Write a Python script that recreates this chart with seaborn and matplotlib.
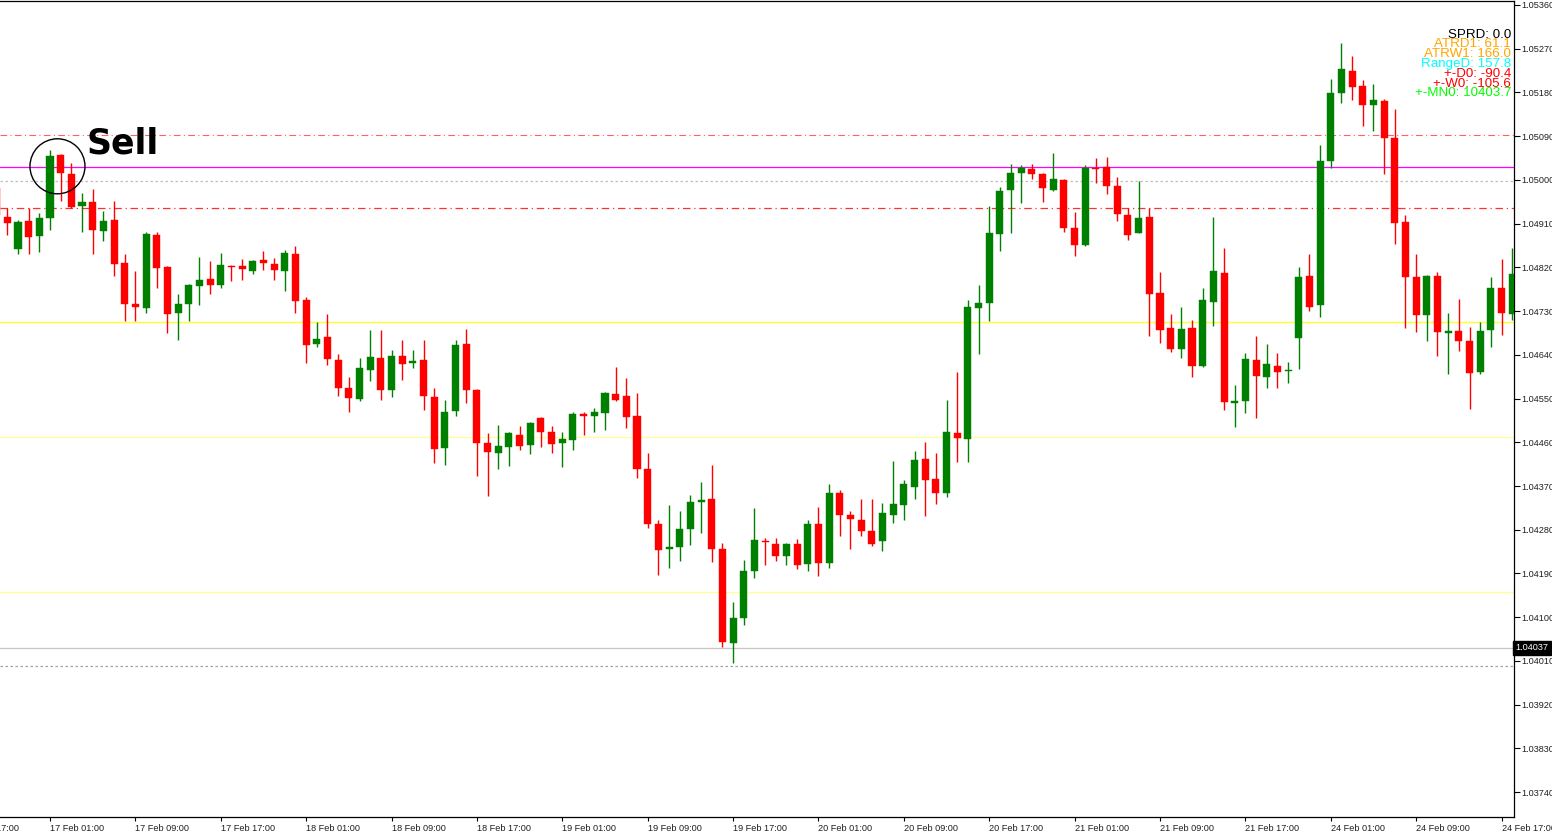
import numpy as np
import pandas as pd
import matplotlib
matplotlib.use("Agg")
import matplotlib.pyplot as plt
import matplotlib.transforms as mtransforms
from matplotlib.patches import Ellipse
import seaborn as sns

# ---------------- data (EURUSD H1, bars from 16/17 Feb to 24 Feb) ----------------
opens = [
    1.04983, 1.04924, 1.04857, 1.04916, 1.04884, 1.04922, 1.05052, 1.05012, 1.04946, 1.04955,
    1.04894, 1.04918, 1.04828, 1.04744, 1.04737, 1.04887, 1.04821, 1.04726, 1.04745, 1.04782,
    1.04796, 1.04784, 1.04823, 1.04823, 1.04813, 1.04835, 1.04827, 1.04813, 1.04848, 1.04752,
    1.04662, 1.04677, 1.04629, 1.04572, 1.04549, 1.04609, 1.04633, 1.04567, 1.04637, 1.04623,
    1.04629, 1.04553, 1.04449, 1.04525, 1.04662, 1.04567, 1.04459, 1.04439, 1.04450, 1.04475,
    1.04454, 1.04510, 1.04481, 1.04458, 1.04465, 1.04518, 1.04514, 1.04521, 1.04559, 1.04555,
    1.04515, 1.04405, 1.04292, 1.04240, 1.04245, 1.04282, 1.04338, 1.04343, 1.04240, 1.04046,
    1.04099, 1.04195, 1.04257, 1.04251, 1.04225, 1.04251, 1.04210, 1.04292, 1.04212, 1.04356,
    1.04310, 1.04301, 1.04278, 1.04256, 1.04311, 1.04330, 1.04369, 1.04425, 1.04384, 1.04356,
    1.04480, 1.04466, 1.04736, 1.04747, 1.04888, 1.04979, 1.05014, 1.05022, 1.05013, 1.04979,
    1.05000, 1.04900, 1.04867, 1.05025, 1.05026, 1.04987, 1.04928, 1.04891, 1.04924, 1.04768,
    1.04695, 1.04651, 1.04695, 1.04617, 1.04748, 1.04809, 1.04540, 1.04544, 1.04629, 1.04595,
    1.04617, 1.04607, 1.04674, 1.04802, 1.04743, 1.05039, 1.05178, 1.05224, 1.05193, 1.05154,
    1.05163, 1.05087, 1.04913, 1.04801, 1.04721, 1.04802, 1.04684, 1.04689, 1.04668, 1.04604,
    1.04691, 1.04777, 1.04724,
]
highs = [
    1.04990, 1.04942, 1.04918, 1.04942, 1.04932, 1.05062, 1.05054, 1.05035, 1.04973, 1.04981,
    1.04937, 1.04957, 1.04848, 1.04813, 1.04892, 1.04892, 1.04823, 1.04765, 1.04786, 1.04842,
    1.04833, 1.04850, 1.04824, 1.04838, 1.04835, 1.04854, 1.04840, 1.04856, 1.04863, 1.04758,
    1.04708, 1.04724, 1.04641, 1.04595, 1.04634, 1.04691, 1.04691, 1.04650, 1.04671, 1.04650,
    1.04671, 1.04571, 1.04547, 1.04671, 1.04693, 1.04569, 1.04480, 1.04496, 1.04481, 1.04494,
    1.04502, 1.04512, 1.04494, 1.04481, 1.04522, 1.04522, 1.04530, 1.04563, 1.04614, 1.04593,
    1.04561, 1.04437, 1.04300, 1.04330, 1.04319, 1.04352, 1.04378, 1.04413, 1.04252, 1.04131,
    1.04218, 1.04325, 1.04264, 1.04263, 1.04253, 1.04261, 1.04300, 1.04326, 1.04375, 1.04362,
    1.04319, 1.04343, 1.04343, 1.04335, 1.04422, 1.04382, 1.04442, 1.04461, 1.04437, 1.04547,
    1.04605, 1.04753, 1.04784, 1.04946, 1.04985, 1.05033, 1.05031, 1.05033, 1.05015, 1.05056,
    1.05001, 1.04933, 1.05031, 1.05046, 1.05048, 1.05007, 1.04942, 1.04998, 1.04942, 1.04811,
    1.04724, 1.04739, 1.04712, 1.04777, 1.04924, 1.04859, 1.04578, 1.04643, 1.04679, 1.04662,
    1.04644, 1.04626, 1.04821, 1.04847, 1.05072, 1.05207, 1.05282, 1.05256, 1.05206, 1.05197,
    1.05166, 1.05145, 1.04928, 1.04848, 1.04805, 1.04811, 1.04726, 1.04754, 1.04698, 1.04707,
    1.04800, 1.04837, 1.04859,
]
lows = [
    1.04918, 1.04887, 1.04848, 1.04848, 1.04852, 1.04896, 1.04957, 1.04942, 1.04893, 1.04848,
    1.04875, 1.04803, 1.04710, 1.04710, 1.04727, 1.04777, 1.04684, 1.04671, 1.04710, 1.04742,
    1.04766, 1.04777, 1.04792, 1.04795, 1.04806, 1.04815, 1.04795, 1.04772, 1.04727, 1.04624,
    1.04657, 1.04619, 1.04555, 1.04522, 1.04546, 1.04586, 1.04547, 1.04554, 1.04588, 1.04612,
    1.04527, 1.04417, 1.04413, 1.04515, 1.04540, 1.04391, 1.04350, 1.04405, 1.04411, 1.04444,
    1.04435, 1.04451, 1.04439, 1.04410, 1.04444, 1.04476, 1.04482, 1.04485, 1.04544, 1.04489,
    1.04387, 1.04283, 1.04187, 1.04202, 1.04216, 1.04249, 1.04273, 1.04214, 1.04039, 1.04006,
    1.04084, 1.04181, 1.04207, 1.04216, 1.04207, 1.04199, 1.04195, 1.04185, 1.04202, 1.04268,
    1.04240, 1.04267, 1.04247, 1.04236, 1.04294, 1.04300, 1.04343, 1.04309, 1.04332, 1.04348,
    1.04420, 1.04420, 1.04642, 1.04710, 1.04854, 1.04891, 1.04953, 1.05001, 1.04955, 1.04977,
    1.04893, 1.04843, 1.04864, 1.04993, 1.04972, 1.04916, 1.04876, 1.04890, 1.04679, 1.04665,
    1.04645, 1.04633, 1.04594, 1.04614, 1.04699, 1.04527, 1.04492, 1.04521, 1.04509, 1.04572,
    1.04571, 1.04583, 1.04610, 1.04731, 1.04717, 1.05024, 1.05158, 1.05165, 1.05111, 1.05101,
    1.05012, 1.04868, 1.04696, 1.04688, 1.04669, 1.04638, 1.04600, 1.04647, 1.04528, 1.04601,
    1.04656, 1.04681, 1.04712,
]
closes = [
    1.04928, 1.04912, 1.04914, 1.04883, 1.04922, 1.05050, 1.05014, 1.04944, 1.04955, 1.04896,
    1.04916, 1.04826, 1.04744, 1.04739, 1.04888, 1.04818, 1.04724, 1.04744, 1.04784, 1.04794,
    1.04784, 1.04825, 1.04821, 1.04817, 1.04833, 1.04828, 1.04815, 1.04849, 1.04751, 1.04660,
    1.04673, 1.04632, 1.04572, 1.04552, 1.04612, 1.04636, 1.04568, 1.04638, 1.04621, 1.04627,
    1.04555, 1.04447, 1.04523, 1.04660, 1.04568, 1.04459, 1.04441, 1.04452, 1.04479, 1.04453,
    1.04500, 1.04481, 1.04457, 1.04467, 1.04518, 1.04514, 1.04523, 1.04561, 1.04548, 1.04512,
    1.04406, 1.04292, 1.04238, 1.04245, 1.04282, 1.04337, 1.04341, 1.04240, 1.04048, 1.04098,
    1.04195, 1.04259, 1.04254, 1.04225, 1.04251, 1.04208, 1.04291, 1.04212, 1.04355, 1.04310,
    1.04302, 1.04278, 1.04251, 1.04315, 1.04333, 1.04374, 1.04423, 1.04382, 1.04356, 1.04481,
    1.04468, 1.04739, 1.04747, 1.04890, 1.04977, 1.05014, 1.05025, 1.05013, 1.04983, 1.05002,
    1.04902, 1.04867, 1.05025, 1.05023, 1.04988, 1.04930, 1.04887, 1.04922, 1.04765, 1.04691,
    1.04653, 1.04693, 1.04617, 1.04752, 1.04813, 1.04542, 1.04545, 1.04631, 1.04597, 1.04621,
    1.04605, 1.04609, 1.04801, 1.04739, 1.05039, 1.05178, 1.05228, 1.05191, 1.05154, 1.05165,
    1.05087, 1.04911, 1.04801, 1.04722, 1.04803, 1.04686, 1.04689, 1.04669, 1.04603, 1.04690,
    1.04777, 1.04726, 1.04806,
]
first_bar_index = -5          # bar index of the first bar (0 = 17 Feb 01:00)

x_tick_labels = ["14 Feb 17:00", "17 Feb 01:00", "17 Feb 09:00", "17 Feb 17:00",
                 "18 Feb 01:00", "18 Feb 09:00", "18 Feb 17:00", "19 Feb 01:00",
                 "19 Feb 09:00", "19 Feb 17:00", "20 Feb 01:00", "20 Feb 09:00",
                 "20 Feb 17:00", "21 Feb 01:00", "21 Feb 09:00", "21 Feb 17:00",
                 "24 Feb 01:00", "24 Feb 09:00", "24 Feb 17:00"]
x_tick_bars = [-8, 0, 8, 16, 24, 32, 40, 48, 56, 64, 72, 80, 88, 96, 104, 112, 120, 128, 136]

y_ticks = [1.05360, 1.05270, 1.05180, 1.05090, 1.05000, 1.04910, 1.04820, 1.04730,
           1.04640, 1.04550, 1.04460, 1.04370, 1.04280, 1.04190, 1.04100, 1.04010,
           1.03920, 1.03830, 1.03740]

level_red_upper = 1.05092
level_magenta = 1.05027
level_gray_dot = 1.04998
level_red_lower = 1.04942
level_yellow_main = 1.04708
level_yellow_2 = 1.04470
level_yellow_3 = 1.04151
level_current = 1.04037
level_blue_dot = 1.03999
current_price_label = "1.04037"

info_lines = ["SPRD: 0.0", "ATRD1: 61.1", "ATRW1: 166.0", "RangeD: 157.8",
              "+-D0: -90.4", "+-W0: -105.6", "+-MN0: 10403.7"]
info_colors = ["#000000", "#FFA500", "#FFA500", "#00FFFF", "#FF0000", "#FF0000", "#00FF00"]

sell_bar = 0
sell_text = "Sell"

# ---------------- build frame ----------------
df = pd.DataFrame({"open": opens, "high": highs, "low": lows, "close": closes})
df["bar"] = np.arange(len(df)) + first_bar_index
df["up"] = df["close"] >= df["open"]
df["color"] = np.where(df["up"], "#008000", "#FF0000")
df["body_lo"] = df[["open", "close"]].min(axis=1)
df["body_h"] = (df["open"] - df["close"]).abs().clip(lower=0.000018)

sns.set_style("white")
plt.rcParams["font.family"] = ["Liberation Sans", "DejaVu Sans"]

W, H = 1552, 831
fig = plt.figure(figsize=(W / 100, H / 100), dpi=100)
ax_left, ax_right = 0.0, 1514 / W
ax_bottom, ax_top = 14.3 / H, 830.4 / H
ax = fig.add_axes([ax_left, ax_bottom, ax_right - ax_left, ax_top - ax_bottom])
ax.set_facecolor("white")

# horizontal levels
ax.axhline(level_red_upper, color="#FF6060", lw=0.8, ls=(0, (6, 3, 1, 3)), zorder=1)
ax.axhline(level_magenta, color="#FF00FF", lw=0.9, zorder=1)
ax.axhline(level_gray_dot, color="#BEBEBE", lw=0.9, ls=(0, (2, 2)), zorder=1)
ax.axhline(level_red_lower, color="#FF3030", lw=0.9, ls=(0, (6, 3, 1, 3)), zorder=1)
ax.axhline(level_yellow_main, color="#FFFF30", lw=1.0, zorder=1)
ax.axhline(level_yellow_2, color="#FFFF99", lw=1.0, zorder=1)
ax.axhline(level_yellow_3, color="#FFFF99", lw=1.0, zorder=1)
ax.axhline(level_current, color="#C8C8C8", lw=1.0, zorder=1)
ax.axhline(level_blue_dot, color="#9AA4B4", lw=0.9, ls=(0, (2, 2)), zorder=1)

# candles: wicks and bodies
ax.vlines(df["bar"], df["low"], df["high"], colors=df["color"], lw=1.0, zorder=2)
ax.bar(df["bar"], df["body_h"], bottom=df["body_lo"], width=0.66,
       color=df["color"], edgecolor=df["color"], linewidth=0.3, zorder=3)

px_per_bar = 10.673

# sell marker
sell_row = df[df["bar"].isin([sell_bar, sell_bar + 1])]
cx = sell_row["bar"].mean() + 0.2
cy = sell_row["high"].max() - 0.00034
ax.add_patch(Ellipse((cx, cy), width=55 / px_per_bar, height=55 * 0.00002058,
                     fill=False, edgecolor="#000000", lw=1.0, zorder=5))
ax.text(cx + 2.75, cy + 0.00027, sell_text, fontsize=25, fontweight="bold",
        family="DejaVu Sans", color="black", ha="left", va="baseline", zorder=6)

# info block (top right)
for i, (txt, col) in enumerate(zip(info_lines, info_colors)):
    ax.text(0.998, 1 - (34 + i * 9.8) / 816.7, txt, transform=ax.transAxes,
            ha="right", va="center", fontsize=9.6, color=col, zorder=7)

# axes decoration
ax.spines["left"].set_visible(False)
for s in ["top", "right", "bottom"]:
    ax.spines[s].set_color("#000000")
    ax.spines[s].set_linewidth(0.9)

ax.yaxis.tick_right()
ax.set_yticks(y_ticks)
ax.set_yticklabels([f"{v:.5f}" for v in y_ticks])
ax.tick_params(axis="y", which="both", right=True, left=False, length=4, width=0.8,
               pad=1.5, labelsize=6.6, colors="#000000", labelcolor="#202020")

ax.set_xticks(x_tick_bars[1:])
ax.set_xticklabels(x_tick_labels[1:])
for lab in ax.get_xticklabels():
    lab.set_horizontalalignment("left")
ax.tick_params(axis="x", which="both", bottom=True, length=3, width=0.8, pad=2,
               labelsize=6.6, colors="#000000", labelcolor="#202020")
ax.grid(False)

# view limits (set after ticks so the ticks do not widen them)
xmin = -50 / px_per_bar
xmax = xmin + 1514 / px_per_bar
ax.set_xlim(xmin, xmax)
ax.set_ylim(1.036895, 1.053690)

# first date label lies left of the visible area: draw it unclipped so its tail shows
ax.annotate(x_tick_labels[0], xy=(x_tick_bars[0], 0), xycoords=("data", "axes fraction"),
            xytext=(0, -5), textcoords="offset points", ha="left", va="top",
            fontsize=6.6, color="#202020", annotation_clip=False)

# current price label on the price scale
trans = mtransforms.blended_transform_factory(ax.transAxes, ax.transData)
ax.text(1.0008, level_current, current_price_label, transform=trans, ha="left", va="center",
        fontsize=6.6, color="white", zorder=8, clip_on=False,
        bbox=dict(boxstyle="square,pad=0.25", facecolor="black", edgecolor="black"))

fig.savefig("out.png", dpi=100)
